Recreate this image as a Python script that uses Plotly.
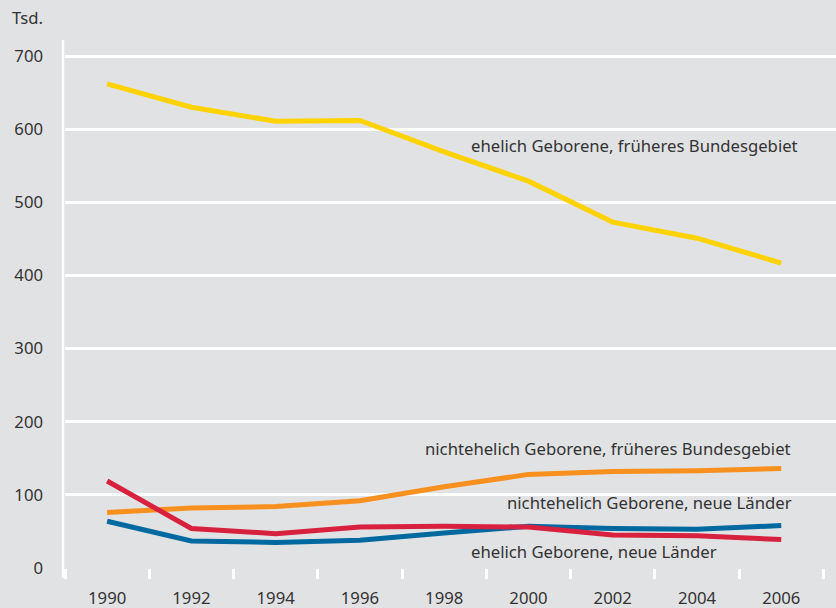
import plotly.graph_objects as go

years = [1990, 1992, 1994, 1996, 1998, 2000, 2002, 2004, 2006]
ehelich_frueher = [662, 630, 611, 612, 569, 529, 473, 451, 417]
nichtehelich_frueher = [76, 82, 84, 92, 111, 128, 132, 133, 136]
ehelich_neu = [119, 54, 47, 56, 57, 56, 45, 44, 39]
nichtehelich_neu = [64, 37, 35, 38, 48, 57, 54, 53, 58]

series = [
    ("ehelich Geborene, früheres Bundesgebiet", ehelich_frueher, "#FFD200"),
    ("nichtehelich Geborene, früheres Bundesgebiet", nichtehelich_frueher, "#F7901E"),
    ("nichtehelich Geborene, neue Länder", nichtehelich_neu, "#0069A0"),
    ("ehelich Geborene, neue Länder", ehelich_neu, "#D7213F"),
]

labels = [
    ("ehelich Geborene, früheres Bundesgebiet", 2006.45, 578),
    ("nichtehelich Geborene, früheres Bundesgebiet", 2006.29, 164),
    ("nichtehelich Geborene, neue Länder", 2006.31, 89),
    ("ehelich Geborene, neue Länder", 2004.53, 22),
]

FONT = "Noto Sans"
FS = 16.7
TXT = "#333333"
BG = "#e1e2e3"

fig = go.Figure()
for name, vals, col in series:
    fig.add_trace(go.Scatter(x=years, y=vals, mode="lines", name=name,
                             line=dict(color=col, width=5)))

for text, x, y in labels:
    fig.add_annotation(x=x, y=y, text=text, showarrow=False, xanchor="right",
                       yanchor="middle", font=dict(family=FONT, size=FS, color=TXT))

fig.add_annotation(xref="paper", yref="paper", x=-65/771, y=(568-17)/528, text="Tsd.",
                   showarrow=False, xanchor="left", yanchor="middle", xshift=10,
                   font=dict(family=FONT, size=FS, color=TXT))

# extend y-axis line below zero to meet tick marks
fig.add_shape(type="line", xref="paper", yref="paper", x0=-2/771, x1=-2/771,
              y0=-10/528, y1=1, line=dict(color="white", width=2.5))

fig.update_layout(
    width=836, height=608,
    margin=dict(l=65, r=0, t=40, b=40),
    paper_bgcolor=BG, plot_bgcolor=BG,
    showlegend=False,
    font=dict(family=FONT, size=FS, color=TXT),
    xaxis=dict(range=[1989, 2007.3], tickvals=years, ticks="", showgrid=False,
               zeroline=False, showline=False, ticklabelstandoff=18,
               tickfont=dict(family=FONT, size=FS, color=TXT),
               minor=dict(tick0=1989, dtick=2, ticks="outside", ticklen=10,
                          tickcolor="white", tickwidth=2.5, showgrid=False)),
    yaxis=dict(range=[0, 722], tickvals=[0, 100, 200, 300, 400, 500, 600, 700],
               showgrid=True, gridcolor="white", gridwidth=2.5, zeroline=False,
               showline=False, ticks="", ticklabelstandoff=21,
               tickfont=dict(family=FONT, size=FS, color=TXT)),
)

fig.write_html("out.html", config={"displayModeBar": False},
               post_script="document.body.style.margin='0px';")
